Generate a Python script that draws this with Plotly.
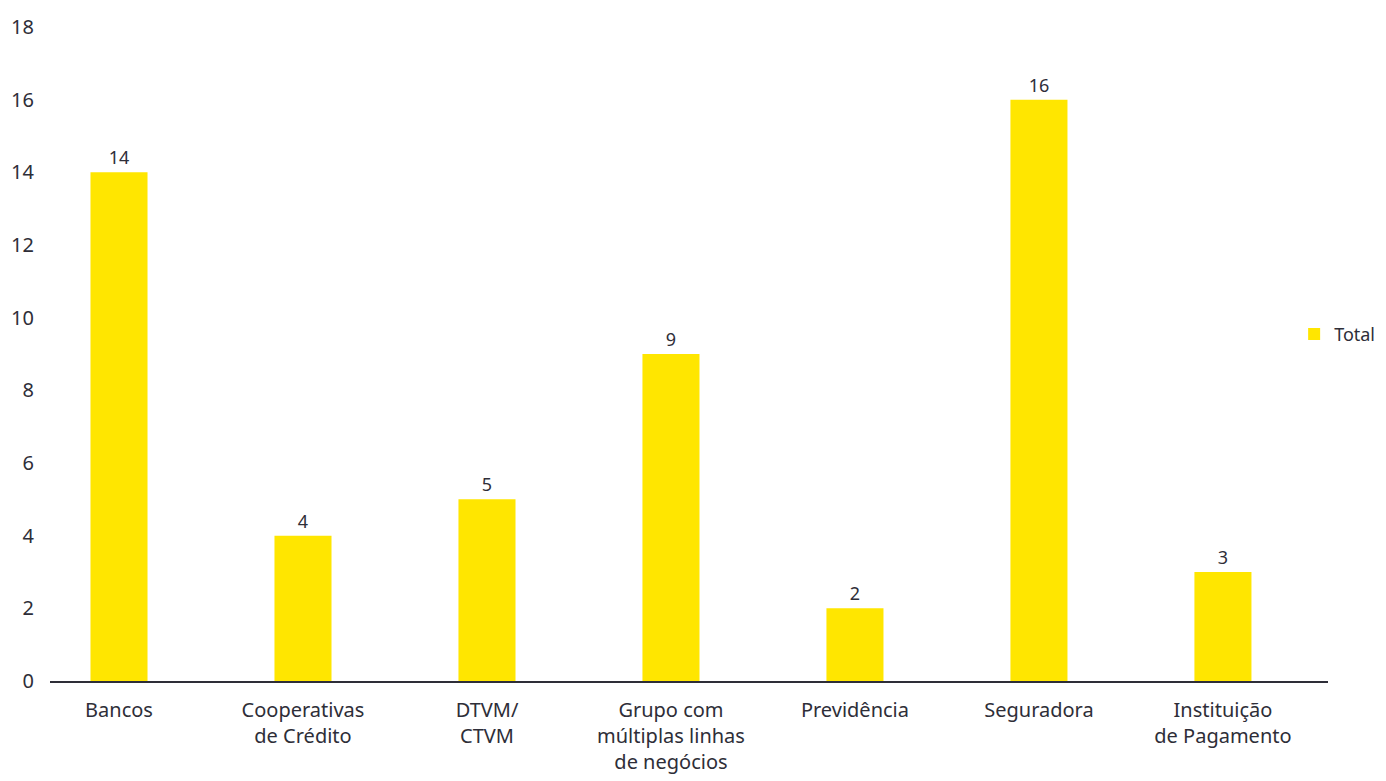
import plotly.graph_objects as go

categories = ["Bancos", "Cooperativas<br>de Crédito", "DTVM/<br>CTVM",
              "Grupo com<br>múltiplas linhas<br>de negócios", "Previdência",
              "Seguradora", "Instituição<br>de Pagamento"]
values = [14, 4, 5, 9, 2, 16, 3]
series_name = "Total"
y_ticks = [0, 2, 4, 6, 8, 10, 12, 14, 16, 18]

TEXT = "#2e2e38"
YELLOW = "#ffe600"
FONT = "Noto Sans"

fig = go.Figure()
fig.add_trace(go.Bar(
    x=list(range(len(categories))), y=values, name=series_name,
    marker=dict(color=YELLOW, line=dict(width=0)),
    width=0.31,
    text=[str(v) for v in values], textposition="outside",
    textfont=dict(size=18, color=TEXT, family=FONT),
    cliponaxis=False,
))

fig.update_layout(
    width=1386, height=781,
    margin=dict(l=42, r=66, t=19, b=108, autoexpand=False),
    paper_bgcolor="white", plot_bgcolor="white",
    font=dict(family=FONT, color=TEXT, size=20),
    showlegend=True,
    legend=dict(x=0.9735, y=0.53, xanchor="left", yanchor="middle",
                font=dict(size=18, color=TEXT, family=FONT),
                bgcolor="rgba(0,0,0,0)", itemwidth=30),
)
fig.update_xaxes(
    tickmode="array", tickvals=list(range(len(categories))), ticktext=categories,
    range=[-0.375, 6.571], showgrid=False, zeroline=False,
    showline=True, linecolor=TEXT, linewidth=2, ticks="",
    ticklabelstandoff=10,
    tickfont=dict(size=20, color=TEXT, family=FONT),
)
fig.update_yaxes(
    range=[0, 18], tickvals=y_ticks, showgrid=False, zeroline=False,
    showline=False, ticks="", ticklabelstandoff=15,
    tickfont=dict(size=20, color=TEXT, family=FONT),
)
fig.write_html("out.html")
